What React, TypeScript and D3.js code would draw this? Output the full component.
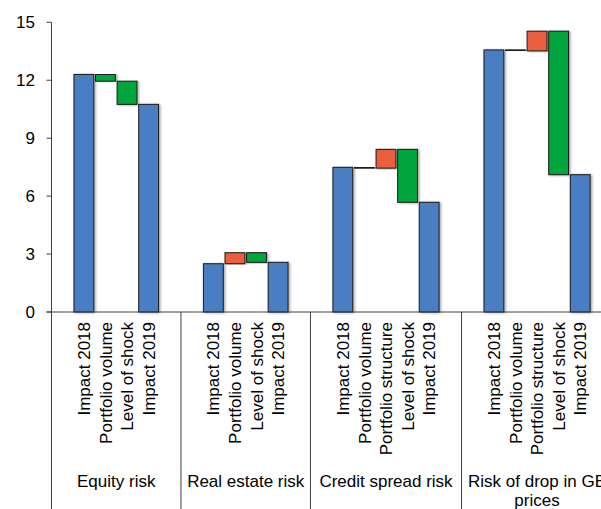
import React from "react";
import * as d3 from "d3";

// Risk groups and the waterfall steps shown within each group
const groupLabels: string[][] = [
  ["Equity risk"],
  ["Real estate risk"],
  ["Credit spread risk"],
  ["Risk of drop in GB", "prices"],
];
const equitySteps = ["Impact 2018", "Portfolio volume", "Level of shock", "Impact 2019"];
const realEstateSteps = ["Impact 2018", "Portfolio volume", "Level of shock", "Impact 2019"];
const creditSteps = ["Impact 2018", "Portfolio volume", "Portfolio structure", "Level of shock", "Impact 2019"];
const gbSteps = ["Impact 2018", "Portfolio volume", "Portfolio structure", "Level of shock", "Impact 2019"];

// Starting impact per group, then the changes that lead to the 2019 impact
const impact2018 = [12.3, 2.5, 7.49, 13.57];
const equityChanges = [-0.35, -1.2];
const realEstateChanges = [0.57, -0.5];
const creditChanges = [-0.04, 0.97, -2.74];
const gbChanges = [-0.05, 1.02, -7.43];

const yTicks = [0, 3, 6, 9, 12, 15];
const unitLabel = "(in EUR billions)";

const stepsByGroup = [equitySteps, realEstateSteps, creditSteps, gbSteps];
const changesByGroup = [equityChanges, realEstateChanges, creditChanges, gbChanges];

const W = 601;
const H = 509;
const FONT = "'Liberation Sans', Arial, sans-serif";
const FS = 17;
const BLUE = "#4a7ec2";
const RED = "#e9603f";
const GREEN = "#00a53c";
const AXIS = "#404040";

type Bar = { key: string; label: string; y0: number; y1: number; kind: "total" | "up" | "down" };

export default function App() {
  // each group gets an empty slot on both sides of its bars
  const slots: string[] = [];
  const bars: Bar[] = [];
  const groupSlots: { first: string; last: string }[] = [];
  stepsByGroup.forEach((steps, g) => {
    const first = `g${g}-pre`;
    slots.push(first);
    let cum = impact2018[g];
    steps.forEach((label, i) => {
      const key = `g${g}-s${i}`;
      slots.push(key);
      if (i === 0 || i === steps.length - 1) {
        bars.push({ key, label, y0: 0, y1: cum, kind: "total" });
      } else {
        const d = changesByGroup[g][i - 1];
        bars.push({ key, label, y0: cum, y1: cum + d, kind: d >= 0 ? "up" : "down" });
        cum += d;
      }
    });
    const last = `g${g}-post`;
    slots.push(last);
    groupSlots.push({ first, last });
  });

  const x0 = 51.5;
  const step = 21.58;
  const x = d3
    .scaleBand<string>()
    .domain(slots)
    .range([x0, x0 + step * slots.length])
    .paddingInner(0.08)
    .paddingOuter(0.04);
  const y = d3.scaleLinear().domain([0, 15]).range([312, 22.3]);

  const bandStart = (k: string) => x(k)! - (x.step() - x.bandwidth()) / 2;
  const fill = (k: Bar["kind"]) => (k === "total" ? BLUE : k === "up" ? RED : GREEN);

  return (
    <svg
      width={W}
      height={H}
      style={{ position: "absolute", left: 0, top: 0, display: "block", background: "#fff" }}
      fontFamily={FONT}
    >
      <defs>
        <filter id="barShadow" x="-20%" y="-5%" width="150%" height="115%">
          <feDropShadow dx="1.5" dy="0.5" stdDeviation="0.8" floodColor="#000" floodOpacity="0.35" />
        </filter>
      </defs>

      <text x={76} y={-3.5} fontSize={FS} textAnchor="middle" fill="#000">
        {unitLabel}
      </text>

      {/* value axis */}
      <line x1={x0} x2={x0} y1={y(15)} y2={H} stroke={AXIS} strokeWidth={1} />
      {yTicks.map((t) => (
        <g key={t}>
          <line x1={x0 - 5} x2={x0} y1={y(t)} y2={y(t)} stroke={AXIS} />
          <text x={35} y={y(t)} dy="0.36em" fontSize={FS} textAnchor="end" fill="#000">
            {t}
          </text>
        </g>
      ))}

      {/* bars */}
      {bars.map((b) => {
        const top = y(Math.max(b.y0, b.y1));
        const h = Math.max(Math.abs(y(b.y0) - y(b.y1)), 0.8);
        return (
          <rect
            key={b.key}
            x={x(b.key)!}
            y={top}
            width={x.bandwidth()}
            height={h}
            fill={fill(b.kind)}
            stroke="#1a1a1a"
            strokeWidth={1}
            filter="url(#barShadow)"
          />
        );
      })}

      {/* category axis */}
      <line x1={x0 - 5} x2={W} y1={y(0)} y2={y(0)} stroke={AXIS} />
      {groupSlots.slice(1).map((gs, i) => {
        const xs = bandStart(gs.first);
        return <line key={i} x1={xs} x2={xs} y1={y(0)} y2={H} stroke={AXIS} />;
      })}

      {bars.map((b) => {
        const cx = x(b.key)! + x.bandwidth() / 2;
        return (
          <text
            key={`l-${b.key}`}
            transform={`translate(${cx},${y(0) + 10}) rotate(-90)`}
            dy="0.36em"
            fontSize={FS}
            textAnchor="end"
            fill="#000"
          >
            {b.label}
          </text>
        );
      })}

      {groupSlots.map((gs, g) => {
        const a = bandStart(gs.first);
        const bEnd = bandStart(gs.last) + x.step();
        const cx = (a + bEnd) / 2;
        return (
          <text key={`g-${g}`} x={cx} y={487} fontSize={FS} textAnchor="middle" fill="#000">
            {groupLabels[g].map((line, i) => (
              <tspan key={i} x={cx} dy={i === 0 ? 0 : 18.5}>
                {line}
              </tspan>
            ))}
          </text>
        );
      })}
    </svg>
  );
}
